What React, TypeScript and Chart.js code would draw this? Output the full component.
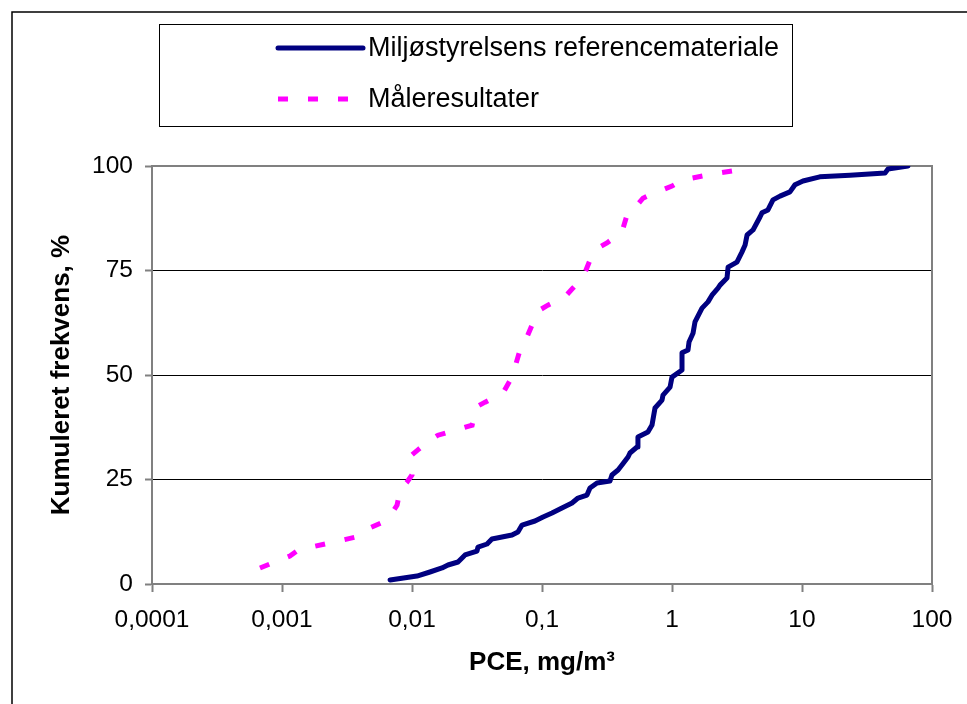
import React, { useEffect, useRef } from 'react';
import { Chart, registerables } from 'chart.js';

Chart.register(...registerables);

const refLabel = 'Miljøstyrelsens referencemateriale';
const maalLabel = 'Måleresultater';

const refX = [
  0.00678, 0.01092, 0.01374, 0.01702, 0.01892, 0.02259, 0.02559, 0.0316, 0.0322, 0.0378,
  0.0412, 0.0588, 0.0653, 0.0702, 0.0883, 0.1019, 0.1194, 0.1374, 0.1702, 0.1892,
  0.2218, 0.2339, 0.2649, 0.3334, 0.3452, 0.3846, 0.412, 0.459, 0.475, 0.538,
  0.547, 0.653, 0.702, 0.74, 0.838, 0.853, 0.966, 1.0, 1.194, 1.194,
  1.328, 1.352, 1.451, 1.503, 1.702, 1.892, 2.03, 2.26, 2.34, 2.65,
  2.7, 3.16, 3.45, 3.65, 3.78, 4.2, 4.75, 4.92, 5.47, 5.98,
  6.77, 8.08, 8.83, 10.18, 13.7, 23.4, 43.5, 45.9, 65.3,
];
const refY = [
  0.96, 1.91, 2.87, 3.83, 4.55, 5.26, 6.94, 7.89, 8.85, 9.57,
  10.77, 11.72, 12.44, 14.11, 15.07, 16.03, 16.99, 17.94, 19.38, 20.57,
  21.29, 22.97, 24.16, 24.64, 26.08, 27.27, 28.47, 30.38, 31.34, 32.78,
  35.17, 36.36, 38.04, 42.1, 44.0, 45.2, 47.1, 49.5, 51.2, 55.3,
  56.0, 57.9, 60.0, 62.7, 66.0, 67.5, 69.1, 70.8, 71.5, 73.2,
  75.8, 77.0, 79.4, 81.1, 83.5, 84.7, 87.8, 88.8, 89.5, 91.9,
  92.8, 93.8, 95.5, 96.4, 97.4, 97.8, 98.3, 99.3, 100,
];

const maalX = [
  0.000677, 0.00115, 0.00133, 0.00371, 0.00434, 0.00598, 0.00702, 0.00768, 0.0081, 0.00917,
  0.01, 0.01, 0.0111, 0.01374, 0.01585, 0.029, 0.031, 0.0365, 0.0501, 0.0588,
  0.0678, 0.0767, 0.0883, 0.0966, 0.111, 0.15, 0.173, 0.206, 0.234, 0.27,
  0.316, 0.412, 0.451, 0.501, 0.598, 0.702, 1.0, 1.216, 1.858, 2.066,
  3.16, 3.65,
];
const maalY = [
  3.83, 6.7, 8.13, 11.24, 12.9, 14.8, 17.0, 18.9, 22.5, 24.4,
  26.1, 30.9, 32.1, 34.4, 35.6, 38.0, 42.3, 43.5, 45.7, 49.5,
  56.0, 59.1, 63.6, 65.6, 66.7, 68.7, 70.8, 73.2, 77.5, 80.4,
  81.6, 84.2, 88.3, 89.5, 92.3, 93.3, 95.2, 96.7, 97.8, 98.1,
  99.0, 100,
];

const xTickValues = [0.0001, 0.001, 0.01, 0.1, 1, 10, 100];
const xTickLabels = ['0,0001', '0,001', '0,01', '0,1', '1', '10', '100'];
const yTickValues = [0, 25, 50, 75, 100];
const xTitle = 'PCE, mg/m³';
const yTitle = 'Kumuleret frekvens, %';

const FONT = '"Liberation Sans", Arial, Helvetica, sans-serif';

const framePlugin = {
  id: 'frameAndLegend',
  beforeDatasetsDraw(chart: any) {
    const { ctx, chartArea: a } = chart;
    ctx.save();
    ctx.strokeStyle = '#808080';
    ctx.lineWidth = 2;
    ctx.beginPath();
    ctx.moveTo(a.left, a.top);
    ctx.lineTo(a.right, a.top);
    ctx.lineTo(a.right, a.bottom);
    ctx.stroke();
    ctx.restore();
  },
  afterDraw(chart: any) {
    const { ctx } = chart;
    ctx.save();
    // outer chart border (only left and top visible)
    ctx.strokeStyle = '#000';
    ctx.lineWidth = 1.5;
    ctx.beginPath();
    ctx.moveTo(12, chart.height + 5);
    ctx.lineTo(12, 12);
    ctx.lineTo(chart.width + 5, 12);
    ctx.stroke();
    // legend box
    ctx.lineWidth = 1;
    ctx.strokeStyle = '#000';
    ctx.strokeRect(159.5, 24.5, 633, 102);
    const rows = [48, 99];
    chart.data.datasets.forEach((ds: any, i: number) => {
      const y = rows[i];
      ctx.save();
      ctx.strokeStyle = ds.borderColor;
      ctx.lineWidth = ds.borderWidth;
      ctx.lineCap = ds.borderCapStyle || 'butt';
      ctx.setLineDash(ds.borderDash || []);
      ctx.beginPath();
      ctx.moveTo(278, y);
      ctx.lineTo(363, y);
      ctx.stroke();
      ctx.restore();
      ctx.fillStyle = '#000';
      ctx.font = `27px ${FONT}`;
      ctx.textBaseline = 'middle';
      ctx.textAlign = 'left';
      ctx.fillText(ds.label, 368, y + 1);
    });
    ctx.restore();
  },
};

export default function App() {
  const canvasRef = useRef<HTMLCanvasElement | null>(null);

  useEffect(() => {
    if (!canvasRef.current) return;
    const tickFont = { family: FONT, size: 24.5 };
    const titleFont = { family: FONT, size: 26, weight: 'bold' as const };
    const chart = new Chart(canvasRef.current, {
      type: 'line',
      data: {
        datasets: [
          {
            label: refLabel,
            data: refX.map((x, i) => ({ x, y: refY[i] })),
            borderColor: '#000080',
            backgroundColor: '#000080',
            borderWidth: 5,
            borderJoinStyle: 'round',
            borderCapStyle: 'round',
            pointRadius: 0,
            tension: 0,
            fill: false,
          },
          {
            label: maalLabel,
            data: maalX.map((x, i) => ({ x, y: maalY[i] })),
            borderColor: '#FF00FF',
            backgroundColor: '#FF00FF',
            borderWidth: 5,
            borderDash: [10, 20],
            borderCapStyle: 'butt',
            borderJoinStyle: 'miter',
            pointRadius: 0,
            tension: 0,
            fill: false,
          },
        ],
      },
      options: {
        responsive: false,
        animation: false,
        devicePixelRatio: 1,
        layout: { padding: { left: 0, top: 166, right: 35, bottom: 0 } },
        plugins: {
          legend: { display: false },
          tooltip: { enabled: false },
          title: { display: false },
        },
        scales: {
          x: {
            type: 'logarithmic',
            min: 0.0001,
            max: 100,
            afterBuildTicks: (s: any) => {
              s.ticks = xTickValues.map((v) => ({ value: v }));
            },
            afterFit: (s: any) => {
              s.height = 120;
            },
            ticks: {
              autoSkip: false,
              maxRotation: 0,
              minRotation: 0,
              padding: 14,
              color: '#000',
              font: tickFont,
              callback: (_v: any, i: number) => xTickLabels[i],
            },
            grid: {
              drawOnChartArea: false,
              drawTicks: true,
              tickLength: 8,
              tickColor: '#808080',
              tickWidth: 2,
            },
            border: { color: '#808080', width: 2 },
            title: {
              display: true,
              text: xTitle,
              color: '#000',
              font: titleFont,
              padding: { top: 0, bottom: 26 },
            },
          },
          y: {
            type: 'linear',
            min: 0,
            max: 100,
            afterBuildTicks: (s: any) => {
              s.ticks = yTickValues.map((v) => ({ value: v }));
            },
            afterFit: (s: any) => {
              s.width = 152;
            },
            ticks: {
              padding: 12,
              color: '#000',
              font: tickFont,
            },
            grid: {
              color: (c: any) =>
                c.tick && (c.tick.value === 0 || c.tick.value === 100) ? 'rgba(0,0,0,0)' : '#000',
              lineWidth: 1,
              tickColor: '#808080',
              tickLength: 7,
              tickWidth: 2,
            },
            border: { color: '#808080', width: 2 },
            title: {
              display: true,
              text: yTitle,
              color: '#000',
              font: titleFont,
              padding: { top: 46, bottom: 0 },
            },
          },
        },
      },
      plugins: [framePlugin],
    } as any);
    return () => chart.destroy();
  }, []);

  return (
    <div style={{ position: 'absolute', left: 0, top: 0, width: 967, height: 704, background: '#fff' }}>
      <canvas ref={canvasRef} width={967} height={704} style={{ display: 'block' }} />
    </div>
  );
}
